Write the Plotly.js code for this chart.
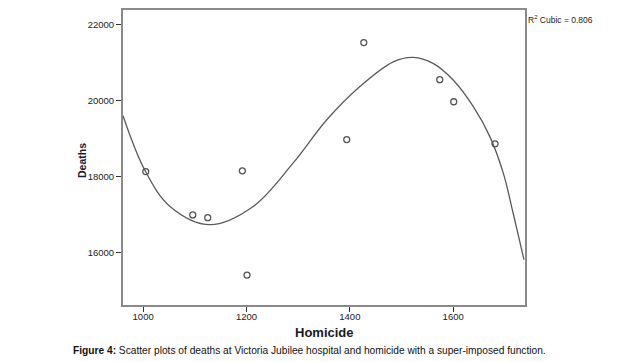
<!DOCTYPE html>
<html><head><meta charset="utf-8">
<script src="https://cdn.plot.ly/plotly-3.0.1.min.js"></script>
<style>body{margin:0;background:#fff}#c{width:620px;height:362px}</style>
</head><body><div id="c"></div>
<script>
// observed points
const homicide = [1005, 1096, 1125, 1192, 1201, 1394, 1427, 1574, 1601, 1681];
const deaths   = [18130, 16990, 16920, 18150, 15410, 18970, 21520, 20545, 19965, 18860];
// fitted cubic curve
const curveX = [961, 1003, 1052, 1129, 1213, 1290, 1355, 1419, 1484, 1523, 1561, 1600, 1639, 1671, 1697, 1716, 1737];
const curveY = [19600, 18176, 17214, 16734, 17214, 18351, 19486, 20359, 21014, 21130, 20972, 20535, 19835, 19049, 18089, 17041, 15817];
const xTicks = [1000, 1200, 1400, 1600];
const yTicks = [16000, 18000, 20000, 22000];
const xTitle = 'Homicide';
const yTitle = 'Deaths';
const fitLabel = 'R<sup>2</sup> Cubic = 0.806';
const captionBold = 'Figure 4:';
const captionText = 'Scatter plots of deaths at Victoria Jubilee hospital and homicide with a super-imposed function.';

const data = [
  {x: curveX, y: curveY, mode:'lines', line:{color:'#5a5a5a', width:1.3, shape:'spline', smoothing:1}, hoverinfo:'skip'},
  {x: homicide, y: deaths, mode:'markers', marker:{symbol:'circle-open', size:6, color:'#555', line:{width:1.3}}}
];
const layout = {
  width:620, height:362, showlegend:false,
  paper_bgcolor:'#fff', plot_bgcolor:'#fff',
  margin:{l:123, r:95, t:10, b:57},
  font:{family:'Liberation Sans, Arial, sans-serif', size:9, color:'#222'},
  xaxis:{range:[961, 1739], tickvals:xTicks, ticktext:xTicks.map(String), showgrid:false, zeroline:false,
    showline:true, linecolor:'#8a8a8a', linewidth:2, mirror:true, ticks:'outside', ticklen:5, tickcolor:'#333',
    tickfont:{size:9.5}, ticklabelstandoff:-3},
  yaxis:{range:[14624, 22376], tickvals:yTicks, ticktext:yTicks.map(String), showgrid:false, zeroline:false,
    showline:true, linecolor:'#8a8a8a', linewidth:2, mirror:true, ticks:'outside', ticklen:5, tickcolor:'#333',
    tickfont:{size:9.5}},
  annotations:[
    {xref:'paper', yref:'paper', x:0.5, y:-0.092, xanchor:'center', yanchor:'middle', showarrow:false,
     text:'<b>'+xTitle+'</b>', font:{size:13, color:'#1a1a1a'}},
    {xref:'paper', yref:'paper', x:-0.102, y:0.4915, xanchor:'center', yanchor:'middle', showarrow:false, textangle:-90,
     text:'<b>'+yTitle+'</b>', font:{size:10.5, color:'#1a1a3a'}},
    {xref:'paper', yref:'paper', x:1.003, y:0.968, xanchor:'left', yanchor:'middle', showarrow:false,
     text:fitLabel, font:{size:8.5, color:'#222'}},
    {xref:'paper', yref:'paper', x:0.465, y:-0.153, xanchor:'center', yanchor:'middle', showarrow:false,
     text:'<b>'+captionBold+'</b> '+captionText, font:{size:10.2, color:'#111'}}
  ]
};
Plotly.newPlot('c', data, layout, {displayModeBar:false, staticPlot:true});
</script></body></html>
